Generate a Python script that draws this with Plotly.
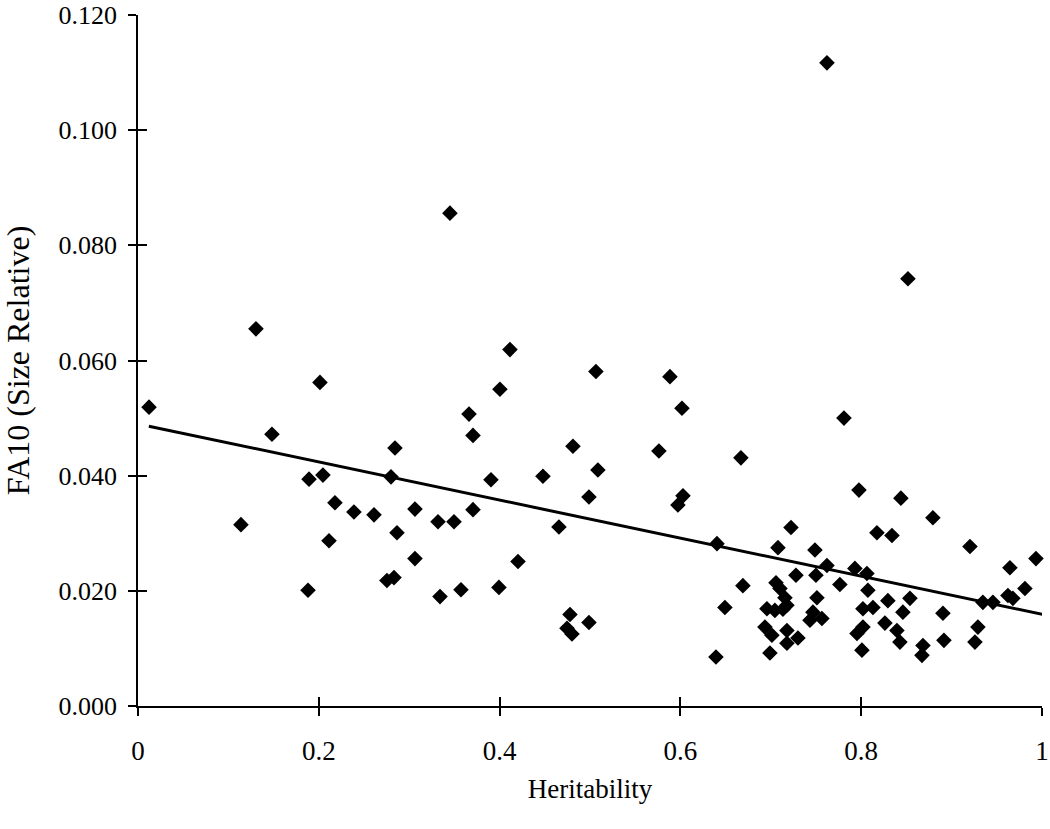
import plotly.graph_objects as go

# Heritability (x) and FA10 size-relative (y)
heritability = [
    0.0122, 0.1139, 0.1305, 0.1482, 0.1892, 0.2046, 0.2013, 0.1881, 0.2179, 0.2113,
    0.2389, 0.2611, 0.2754, 0.2832, 0.2799, 0.2843, 0.2865, 0.3064, 0.3064, 0.3319,
    0.3341, 0.3496, 0.3573, 0.3451, 0.3662, 0.3706, 0.3706, 0.3905, 0.3993, 0.4004,
    0.4115, 0.4204, 0.4480, 0.4812, 0.4657, 0.5066, 0.4989, 0.5088, 0.5763, 0.5885,
    0.6018, 0.6029, 0.5973, 0.4989, 0.4779, 0.4746, 0.4801, 0.6394, 0.6405, 0.6493,
    0.6692, 0.6670, 0.6936, 0.6958, 0.6991, 0.7013, 0.7046, 0.7058, 0.7080, 0.7102,
    0.7135, 0.7157, 0.7179, 0.7179, 0.7179, 0.7224, 0.7279, 0.7301, 0.7434, 0.7467,
    0.7489, 0.7500, 0.7511, 0.7566, 0.7622, 0.7765, 0.7810, 0.7931, 0.7976, 0.7954,
    0.8009, 0.8020, 0.8020, 0.8064, 0.8075, 0.8131, 0.8175, 0.8263, 0.8296, 0.8341,
    0.8396, 0.8429, 0.8440, 0.8462, 0.8518, 0.8540, 0.8673, 0.8684, 0.7622, 0.8794,
    0.8905, 0.8916, 0.9204, 0.9259, 0.9292, 0.9347, 0.9458, 0.9624, 0.9679, 0.9646,
    0.9812, 0.9934,
]
fa10 = [
    0.0519, 0.0315, 0.0655, 0.0472, 0.0394, 0.0401, 0.0562, 0.0201, 0.0353, 0.0287,
    0.0337, 0.0332, 0.0218, 0.0223, 0.0398, 0.0448, 0.0301, 0.0342, 0.0256, 0.0320,
    0.0190, 0.0320, 0.0202, 0.0856, 0.0507, 0.0470, 0.0341, 0.0393, 0.0206, 0.0550,
    0.0619, 0.0251, 0.0399, 0.0451, 0.0311, 0.0581, 0.0363, 0.0410, 0.0443, 0.0572,
    0.0517, 0.0365, 0.0349, 0.0145, 0.0159, 0.0135, 0.0125, 0.0085, 0.0282, 0.0171,
    0.0209, 0.0431, 0.0137, 0.0169, 0.0092, 0.0123, 0.0166, 0.0214, 0.0275, 0.0204,
    0.0168, 0.0188, 0.0175, 0.0131, 0.0109, 0.0310, 0.0227, 0.0118, 0.0149, 0.0163,
    0.0271, 0.0227, 0.0188, 0.0152, 0.0244, 0.0211, 0.0500, 0.0239, 0.0375, 0.0126,
    0.0097, 0.0169, 0.0137, 0.0230, 0.0201, 0.0171, 0.0301, 0.0144, 0.0183, 0.0296,
    0.0131, 0.0111, 0.0361, 0.0163, 0.0742, 0.0187, 0.0088, 0.0105, 0.1117, 0.0327,
    0.0161, 0.0114, 0.0277, 0.0111, 0.0137, 0.0180, 0.0180, 0.0192, 0.0187, 0.0240,
    0.0204, 0.0256,
]

# Trend line end points
trend_x = [0.012, 1.007]
trend_y = [0.0486, 0.0157]

x_ticks = [0, 0.2, 0.4, 0.6, 0.8, 1]
x_tick_text = ["0", "0.2", "0.4", "0.6", "0.8", "1"]
y_ticks = [0.0, 0.02, 0.04, 0.06, 0.08, 0.10, 0.12]
y_tick_text = ["0.000", "0.020", "0.040", "0.060", "0.080", "0.100", "0.120"]

X_RANGE = [0, 1.0001]
Y_RANGE = [0, 0.12001]

FONT = "Liberation Serif, Times New Roman, serif"

fig = go.Figure()
fig.add_trace(go.Scatter(
    x=heritability, y=fa10, mode="markers",
    marker=dict(symbol="diamond", size=12, color="black", line=dict(width=0)),
    showlegend=False, cliponaxis=False,
))
fig.add_trace(go.Scatter(
    x=trend_x, y=trend_y, mode="lines",
    line=dict(color="black", width=3), showlegend=False,
))
# invisible trace on overlay axes so the inward ticks render
fig.add_trace(go.Scatter(x=[0.5], y=[0.05], xaxis="x2", yaxis="y2", mode="markers",
                         marker=dict(opacity=0), showlegend=False, hoverinfo="skip"))

fig.update_layout(
    width=1050, height=829,
    margin=dict(l=138, r=8, t=15, b=123, autoexpand=False),
    paper_bgcolor="white", plot_bgcolor="white",
    font=dict(family=FONT, color="black", size=27),
    xaxis=dict(
        range=X_RANGE, tickvals=x_ticks, ticktext=x_tick_text, automargin=False,
        showgrid=False, zeroline=False, showline=True, linecolor="black", linewidth=1.5,
        ticks="outside", ticklen=8, tickwidth=1.5, tickcolor="black",
        tickfont=dict(family=FONT, size=27), ticklabelstandoff=12,
        ticklabeloverflow="allow",
        title=dict(text="Heritability", font=dict(family=FONT, size=27), standoff=14),
    ),
    yaxis=dict(
        range=Y_RANGE, tickvals=y_ticks, ticktext=y_tick_text, automargin=False,
        showgrid=False, zeroline=False, showline=True, linecolor="black", linewidth=1.5,
        ticks="outside", ticklen=8, tickwidth=1.5, tickcolor="black",
        tickfont=dict(family=FONT, size=26), ticklabelstandoff=6,
        ticklabeloverflow="allow",
        title=dict(text="FA10 (Size Relative)", font=dict(family=FONT, size=32), standoff=36),
    ),
    xaxis2=dict(
        overlaying="x", anchor="y", side="bottom", range=X_RANGE, tickvals=x_ticks,
        showticklabels=False, showgrid=False, zeroline=False, showline=False,
        ticks="inside", ticklen=9, tickwidth=1.5, tickcolor="black", automargin=False,
    ),
    yaxis2=dict(
        overlaying="y", anchor="x", side="left", range=Y_RANGE, tickvals=y_ticks,
        showticklabels=False, showgrid=False, zeroline=False, showline=False,
        ticks="inside", ticklen=9, tickwidth=1.5, tickcolor="black", automargin=False,
    ),
)

fig.write_html("out.html", config={"displayModeBar": False},
               post_script="document.body.style.margin='0';")
